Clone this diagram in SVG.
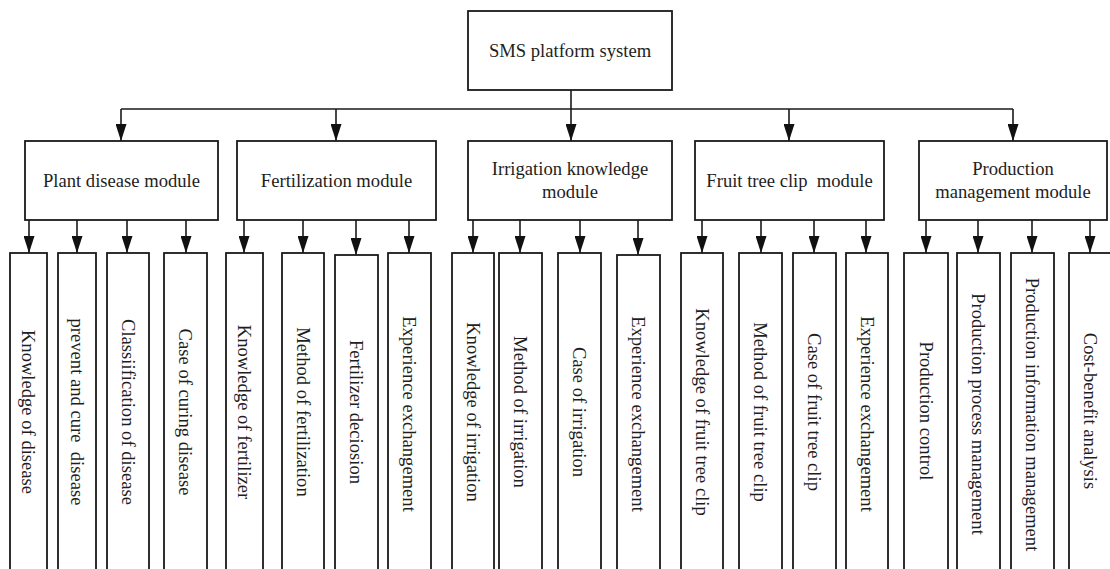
<svg xmlns="http://www.w3.org/2000/svg" width="1110" height="569" viewBox="0 0 1110 569">
  <style>
    .box { fill: #ffffff; stroke: #1a1a1a; stroke-width: 1.8; }
    .lbl { font-family: "Liberation Serif", "Times New Roman", serif; font-size: 18.6px; fill: #1e1e1e; text-anchor: middle; }
    .vl { dominant-baseline: central; }
    .wire { fill: none; stroke: #1a1a1a; stroke-width: 1.6; }
    .arr { marker-end: url(#head); }
  </style>
  <defs>
    <marker id="head" viewBox="0 0 17 11" refX="17" refY="5.5" markerWidth="17" markerHeight="11" markerUnits="userSpaceOnUse" orient="auto">
      <path d="M0,0 L17,5.5 L0,11 z" fill="#111111"/>
    </marker>
  </defs>
  <rect width="1110" height="569" fill="#ffffff"/>

  <!-- connectors -->
  <g id="connectors" class="wire">
    <path d="M121,109 H1013"/>
    <path class="arr" d="M571,90 V141"/>
    <path class="arr" d="M121,109 V141"/>
    <path class="arr" d="M336,109 V141"/>
    <path class="arr" d="M789,109 V141"/>
    <path class="arr" d="M1013,109 V141"/>
    <!-- module to leaf arrows -->
    <path class="arr" d="M29,220 V253"/>
    <path class="arr" d="M77,220 V253"/>
    <path class="arr" d="M127,220 V253"/>
    <path class="arr" d="M186,220 V253"/>
    <path class="arr" d="M244,220 V253"/>
    <path class="arr" d="M303,220 V253"/>
    <path class="arr" d="M356,220 V255"/>
    <path class="arr" d="M409,220 V253"/>
    <path class="arr" d="M473,220 V253"/>
    <path class="arr" d="M520,220 V253"/>
    <path class="arr" d="M580,220 V253"/>
    <path class="arr" d="M638,220 V255"/>
    <path class="arr" d="M702,220 V253"/>
    <path class="arr" d="M761,220 V253"/>
    <path class="arr" d="M814,220 V253"/>
    <path class="arr" d="M866,220 V253"/>
    <path class="arr" d="M926,220 V253"/>
    <path class="arr" d="M978,220 V253"/>
    <path class="arr" d="M1032,220 V253"/>
    <path class="arr" d="M1090,220 V253"/>
  </g>

  <!-- root -->
  <g id="root">
    <rect class="box" x="468" y="11" width="204" height="79"/>
    <text class="lbl" x="570" y="57">SMS platform system</text>
  </g>

  <!-- modules -->
  <g id="plant-disease-module">
    <rect class="box" x="25" y="141" width="193" height="79"/>
    <text class="lbl" x="121.5" y="187">Plant disease module</text>
  </g>
  <g id="fertilization-module">
    <rect class="box" x="237" y="141" width="199" height="79"/>
    <text class="lbl" x="336.5" y="187">Fertilization module</text>
  </g>
  <g id="irrigation-module">
    <rect class="box" x="468" y="141" width="204" height="79"/>
    <text class="lbl" x="570" y="175">Irrigation knowledge</text>
    <text class="lbl" x="570" y="198">module</text>
  </g>
  <g id="fruit-tree-module">
    <rect class="box" x="695" y="141" width="189" height="79"/>
    <text class="lbl" x="789.5" y="187" xml:space="preserve">Fruit tree clip  module</text>
  </g>
  <g id="production-module">
    <rect class="box" x="919" y="141" width="188" height="79"/>
    <text class="lbl" x="1013" y="175">Production</text>
    <text class="lbl" x="1013" y="198">management module</text>
  </g>

  <!-- leaves: plant disease -->
  <g id="leaf-knowledge-disease">
    <rect class="box" x="10" y="253" width="37" height="320"/>
    <text class="lbl vl" transform="translate(28.5,412) rotate(90)">Knowledge of disease</text>
  </g>
  <g id="leaf-prevent-cure">
    <rect class="box" x="58" y="253" width="38" height="320"/>
    <text class="lbl vl" transform="translate(77,412) rotate(90)" xml:space="preserve">prevent and cure  disease</text>
  </g>
  <g id="leaf-classification">
    <rect class="box" x="107" y="253" width="42" height="320"/>
    <text class="lbl vl" transform="translate(128,412) rotate(90)">Classiification of disease</text>
  </g>
  <g id="leaf-case-curing">
    <rect class="box" x="164" y="253" width="43" height="320"/>
    <text class="lbl vl" transform="translate(185.5,412) rotate(90)">Case of curing disease</text>
  </g>

  <!-- leaves: fertilization -->
  <g id="leaf-knowledge-fertilizer">
    <rect class="box" x="226" y="253" width="37" height="320"/>
    <text class="lbl vl" transform="translate(244.5,412) rotate(90)">Knowledge of fertilizer</text>
  </g>
  <g id="leaf-method-fertilization">
    <rect class="box" x="282" y="253" width="42" height="320"/>
    <text class="lbl vl" transform="translate(303,412) rotate(90)">Method of fertilization</text>
  </g>
  <g id="leaf-fertilizer-decision">
    <rect class="box" x="335" y="255" width="43" height="320"/>
    <text class="lbl vl" transform="translate(356.5,412) rotate(90)">Fertilizer deciosion</text>
  </g>
  <g id="leaf-fert-exchange">
    <rect class="box" x="388" y="253" width="43" height="320"/>
    <text class="lbl vl" transform="translate(409.5,414) rotate(90)">Experience exchangement</text>
  </g>

  <!-- leaves: irrigation -->
  <g id="leaf-knowledge-irrigation">
    <rect class="box" x="452" y="253" width="42" height="320"/>
    <text class="lbl vl" transform="translate(473,412) rotate(90)">Knowledge of irrigation</text>
  </g>
  <g id="leaf-method-irrigation">
    <rect class="box" x="499" y="253" width="43" height="320"/>
    <text class="lbl vl" transform="translate(520.5,412) rotate(90)">Method of irrigation</text>
  </g>
  <g id="leaf-case-irrigation">
    <rect class="box" x="558" y="253" width="43" height="320"/>
    <text class="lbl vl" transform="translate(579.5,412) rotate(90)">Case of irrigation</text>
  </g>
  <g id="leaf-irr-exchange">
    <rect class="box" x="617" y="255" width="43" height="320"/>
    <text class="lbl vl" transform="translate(638.5,414) rotate(90)">Experience exchangement</text>
  </g>

  <!-- leaves: fruit tree clip -->
  <g id="leaf-knowledge-clip">
    <rect class="box" x="681" y="253" width="42" height="320"/>
    <text class="lbl vl" transform="translate(702,412) rotate(90)">Knowledge of fruit tree clip</text>
  </g>
  <g id="leaf-method-clip">
    <rect class="box" x="739" y="253" width="43" height="320"/>
    <text class="lbl vl" transform="translate(760.5,412) rotate(90)">Method of fruit tree clip</text>
  </g>
  <g id="leaf-case-clip">
    <rect class="box" x="793" y="253" width="43" height="320"/>
    <text class="lbl vl" transform="translate(814.5,412) rotate(90)">Case of fruit tree clip</text>
  </g>
  <g id="leaf-clip-exchange">
    <rect class="box" x="846" y="253" width="42" height="320"/>
    <text class="lbl vl" transform="translate(867,414) rotate(90)">Experience exchangement</text>
  </g>

  <!-- leaves: production management -->
  <g id="leaf-production-control">
    <rect class="box" x="904" y="253" width="44" height="320"/>
    <text class="lbl vl" transform="translate(926,411) rotate(90)">Production control</text>
  </g>
  <g id="leaf-process-management">
    <rect class="box" x="957" y="253" width="43" height="320"/>
    <text class="lbl vl" transform="translate(978.5,414) rotate(90)">Production process management</text>
  </g>
  <g id="leaf-information-management">
    <rect class="box" x="1011" y="253" width="43" height="320"/>
    <text class="lbl vl" transform="translate(1032.5,414.5) rotate(90)">Production information management</text>
  </g>
  <g id="leaf-cost-benefit">
    <rect class="box" x="1069" y="253" width="43" height="320"/>
    <text class="lbl vl" transform="translate(1090.5,411) rotate(90)">Cost-benefit analysis</text>
  </g>
</svg>
